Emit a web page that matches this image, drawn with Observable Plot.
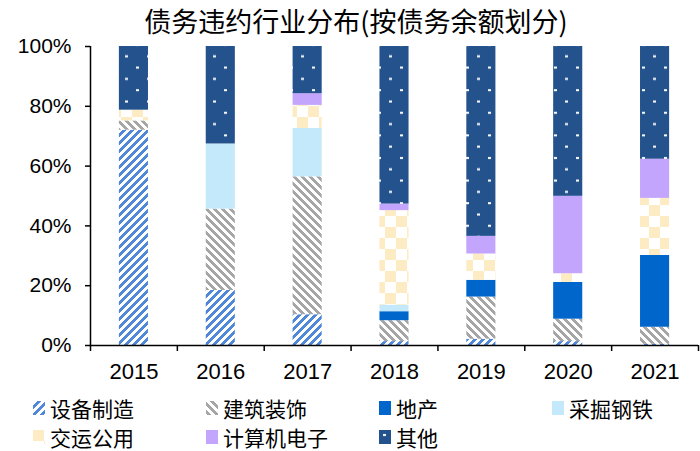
<!DOCTYPE html>
<html><head><meta charset="utf-8">
<script src="https://cdn.jsdelivr.net/npm/d3@7"></script>
<script src="https://cdn.jsdelivr.net/npm/@observablehq/plot@0.6"></script>
<style>
body{margin:0;background:#fff;}
#wrap{width:700px;height:451px;position:relative;overflow:hidden;background:#fff;}
#title{position:absolute;left:6px;top:0;width:700px;height:42px;text-align:center;font-family:"Noto Sans CJK SC";font-size:27px;line-height:42px;color:#000;}
#chart{position:absolute;left:0;top:40px;}
#legend{position:absolute;left:0;top:390px;width:700px;height:61px;}
.item{position:absolute;display:flex;align-items:center;font-family:"Noto Sans CJK SC";font-size:21px;line-height:22px;height:22px;color:#000;white-space:nowrap;}
.item svg{margin-right:5px;}
</style></head>
<body>
<div id="wrap">
  <div id="title">债务违约行业分布(按债务余额划分)</div>
  <div id="chart"></div>
  <div id="legend"></div>
</div>
<script>
const years = ["2015","2016","2017","2018","2019","2020","2021"];
const industries = ["设备制造","建筑装饰","地产","采掘钢铁","交运公用","计算机电子","其他"];
// shares in % per year, one array per industry
const equipment   = [72.0, 18.4, 10.3,  1.3,  2.1,  1.3,  0.4];
const construction= [ 3.1, 27.2, 46.1,  7.0, 14.1,  7.5,  5.7];
const realEstate  = [ 0.0,  0.0,  0.0,  3.0,  5.6, 12.3, 24.0];
const mining      = [ 0.0, 21.8, 16.2,  2.2,  0.0,  0.0,  0.0];
const transport   = [ 3.6,  0.0,  7.7, 31.6,  8.8,  2.9, 19.1];
const electronics = [ 0.0,  0.0,  3.9,  2.2,  5.9, 25.9, 13.1];
const others      = [21.3, 32.6, 15.8, 52.7, 63.5, 50.1, 37.7];
const series = [equipment, construction, realEstate, mining, transport, electronics, others];
const yTicks = [0, 0.2, 0.4, 0.6, 0.8, 1.0];

const W = 700, H = 350, mL = 90, mR = 2, mT = 6, mB = 45;
const step = (W - mL - mR) / years.length;
const rows = industries.flatMap((ind, k) => years.map((yr, j) => ({year: yr, industry: ind, share: series[k][j] / 100})));
const patIds = industries.map((d, i) => "pat" + i);

const chart = Plot.plot({
  width: W, height: H, marginLeft: mL, marginRight: mR, marginTop: mT, marginBottom: mB,
  style: {fontFamily: "'Liberation Sans', Arial, sans-serif", fontSize: "21px", color: "#000", background: "#fff", overflow: "visible"},
  x: {domain: years, paddingInner: 0.665, paddingOuter: 0.3325, round: false, label: null},
  y: {domain: [0, 1], label: null},
  color: {domain: industries, range: patIds.map(id => `url(#${id})`)},
  marks: [
    Plot.barY(rows, {x: "year", y: "share", fill: "industry"}),
    Plot.ruleY([0], {stroke: "#000", strokeWidth: 1.5}),
    Plot.ruleX([years[0]], {x: d => d, y1: 0, y2: 1, dx: -step / 2, stroke: "#000", strokeWidth: 1.5}),
    Plot.ruleX(years, {x: d => d, y1: 0, y2: 0, insetBottom: -6, dx: -step / 2, stroke: "#000", strokeWidth: 1.5}),
    Plot.ruleX([years[years.length - 1]], {x: d => d, y1: 0, y2: 0, insetBottom: -6, dx: step / 2, stroke: "#000", strokeWidth: 1.5}),
    Plot.axisY({ticks: yTicks, tickFormat: d3.format(".0%"), tickSize: 5, tickPadding: 14, fontSize: 21, strokeWidth: 1.5}),
    Plot.axisX({tickSize: 0, tickPadding: 18, fontSize: 22})
  ]
});

// patterns
const defs = d3.select(chart).insert("defs", ":first-child");
function pixelPattern(id, bg, fg, test) {
  const p = defs.append("pattern").attr("id", id).attr("patternUnits", "userSpaceOnUse").attr("width", 8).attr("height", 8);
  p.append("rect").attr("width", 8).attr("height", 8).attr("fill", bg);
  for (let r = 0; r < 8; r++) for (let c = 0; c < 8; c++) if (test(c, r))
    p.append("rect").attr("x", c).attr("y", r).attr("width", 1).attr("height", 1).attr("fill", fg).attr("shape-rendering", "crispEdges");
}
pixelPattern("pat0", "#4f88d8", "#fff", (c, r) => (c + r) % 8 < 4);
pixelPattern("pat1", "#a6a6a6", "#fff", (c, r) => ((c - r) % 8 + 8) % 8 < 4);
function solid(id, col) {
  const p = defs.append("pattern").attr("id", id).attr("patternUnits", "userSpaceOnUse").attr("width", 4).attr("height", 4);
  p.append("rect").attr("width", 4).attr("height", 4).attr("fill", col);
}
solid("pat2", "#0066cc");
solid("pat3", "#c4e9fb");
solid("pat5", "#c4a5fd");
{
  const p = defs.append("pattern").attr("id", "pat4").attr("patternUnits", "userSpaceOnUse").attr("width", 22).attr("height", 22);
  p.append("rect").attr("width", 22).attr("height", 22).attr("fill", "#fff");
  p.append("rect").attr("width", 11).attr("height", 11).attr("fill", "#fdebc3");
  p.append("rect").attr("x", 11).attr("y", 11).attr("width", 11).attr("height", 11).attr("fill", "#fdebc3");
}
{
  const p = defs.append("pattern").attr("id", "pat6").attr("patternUnits", "userSpaceOnUse").attr("width", 22).attr("height", 22.6);
  p.append("rect").attr("width", 22).attr("height", 22.6).attr("fill", "#24528c");
  p.append("rect").attr("x", 4).attr("y", 4).attr("width", 3).attr("height", 2).attr("fill", "#fff");
  p.append("rect").attr("x", 15).attr("y", 15.3).attr("width", 3).attr("height", 2).attr("fill", "#fff");
}
document.getElementById("chart").appendChild(chart);

// legend
const legend = d3.select("#legend");
industries.forEach((ind, i) => {
  const col = i % 4, row = Math.floor(i / 4);
  const item = legend.append("div").attr("class", "item").style("left", (33 + col * 173) + "px").style("top", (7 + row * 29) + "px");
  const s = item.append("svg").attr("width", 12).attr("height", 14);
  s.append("rect").attr("width", 12).attr("height", 14).attr("fill", `url(#${patIds[i]})`);
  item.append("span").text(ind);
});
</script>
</body></html>
